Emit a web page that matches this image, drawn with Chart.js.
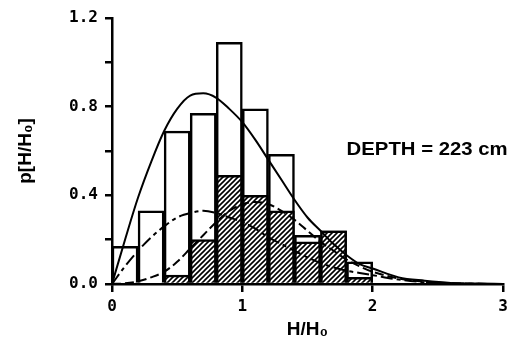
<!DOCTYPE html>
<html>
<head>
<meta charset="utf-8">
<script src="https://cdn.jsdelivr.net/npm/chart.js@4"></script>
<style>
  html, body { margin: 0; padding: 0; background: #fff; }
  #wrap { width: 518px; height: 344px; position: relative; }
</style>
</head>
<body>
<div id="wrap"><canvas id="myChart"></canvas></div>
<script>
// histogram bins (bin centres, width 0.2)
var binCentres = [0.1, 0.3, 0.5, 0.7, 0.9, 1.1, 1.3, 1.5, 1.7, 1.9];
var openBars   = [0.17, 0.33, 0.69, 0.77, 1.09, 0.79, 0.585, 0.22, 0.24, 0.10];
var hatchBars  = [null, null, 0.04, 0.20, 0.49, 0.40, 0.33, 0.19, 0.24, 0.03];

// curves
var curveX     = [0, 0.1, 0.2, 0.3, 0.4, 0.5, 0.6, 0.7, 0.8, 0.9, 1.0, 1.1, 1.2, 1.3, 1.4, 1.5, 1.6, 1.7, 1.8, 1.9, 2.0, 2.2, 2.4, 2.6, 2.8, 3.0];
var solidCurve = [0, 0.20, 0.39, 0.55, 0.69, 0.79, 0.85, 0.86, 0.84, 0.79, 0.73, 0.65, 0.56, 0.47, 0.38, 0.30, 0.24, 0.18, 0.13, 0.09, 0.07, 0.03, 0.015, 0.005, 0.002, 0];
var dashCurve  = [0, 0.08, 0.15, 0.21, 0.26, 0.30, 0.32, 0.33, 0.32, 0.30, 0.28, 0.25, 0.21, 0.18, 0.15, 0.12, 0.095, 0.075, 0.06, 0.05, 0.04, 0.02, 0.008, 0.003, 0.001, 0];
var dash2Curve = [0, 0.003, 0.012, 0.03, 0.055, 0.10, 0.16, 0.22, 0.28, 0.33, 0.36, 0.37, 0.36, 0.33, 0.29, 0.24, 0.19, 0.15, 0.11, 0.08, 0.055, 0.025, 0.01, 0.004, 0.001, 0];

var yTickLabels = ['0.0', '0.4', '0.8', '1.2'];
var xTickLabels = ['0', '1', '2', '3'];
var noteText = 'DEPTH = 223 cm';

function pts(xs, ys) {
  var out = [];
  for (var i = 0; i < xs.length; i++) {
    if (ys[i] !== null) out.push({x: xs[i], y: ys[i]});
  }
  return out;
}

// diagonal hatch
function makeHatch() {
  var c = document.createElement('canvas');
  var s = 5;
  c.width = s; c.height = s;
  var g = c.getContext('2d');
  g.fillStyle = '#fff';
  g.fillRect(0, 0, s, s);
  g.strokeStyle = '#000';
  g.lineWidth = 1.6;
  g.beginPath();
  g.moveTo(-1, s + 1); g.lineTo(s + 1, -1);
  g.moveTo(-1, 1); g.lineTo(1, -1);
  g.moveTo(s - 1, s + 1); g.lineTo(s + 1, s - 1);
  g.stroke();
  return g.createPattern(c, 'repeat');
}

var notePlugin = {
  id: 'note',
  afterDraw: function(chart) {
    var ctx = chart.ctx;
    var xs = chart.scales.x, ys = chart.scales.y;
    ctx.save();
    ctx.font = 'bold 18px "Liberation Sans"';
    ctx.fillStyle = '#000';
    ctx.textBaseline = 'alphabetic';
    var w = ctx.measureText(noteText).width;
    var px = xs.getPixelForValue(1.8), py = ys.getPixelForValue(0.58);
    ctx.translate(px, py);
    ctx.scale(161 / w, 1);
    ctx.fillText(noteText, 0, 0);
    ctx.restore();
  }
};

var ctx = document.getElementById('myChart').getContext('2d');
var chart = new Chart(ctx, {
  type: 'bar',
  data: {
    datasets: [{
      type: 'line',
      data: pts(curveX, solidCurve),
      borderColor: '#000',
      borderWidth: 2,
      pointRadius: 0,
      cubicInterpolationMode: 'monotone',
      order: 1
    }, {
      type: 'line',
      data: pts(curveX, dashCurve),
      borderColor: '#000',
      borderWidth: 2,
      borderDash: [12, 4, 4, 4],
      pointRadius: 0,
      cubicInterpolationMode: 'monotone',
      order: 1
    }, {
      type: 'line',
      data: pts(curveX, dash2Curve),
      borderColor: '#000',
      borderWidth: 2,
      borderDash: [9, 4],
      pointRadius: 0,
      cubicInterpolationMode: 'monotone',
      order: 1
    }, {
      data: pts(binCentres, hatchBars),
      backgroundColor: makeHatch(),
      borderColor: '#000',
      borderWidth: 2.5,
      grouped: false,
      barPercentage: 1,
      categoryPercentage: 1,
      order: 2
    }, {
      data: pts(binCentres, openBars),
      backgroundColor: '#fff',
      borderColor: '#000',
      borderWidth: 2.5,
      grouped: false,
      barPercentage: 1,
      categoryPercentage: 1,
      order: 3
    }]
  },
  options: {
    responsive: true,
    maintainAspectRatio: false,
    animation: false,
    layout: { padding: { left: 0, right: 15, top: 18, bottom: 0 } },
    plugins: { legend: { display: false }, tooltip: { enabled: false } },
    scales: {
      x: {
        type: 'linear',
        offset: false,
        min: 0, max: 3,
        afterFit: function(s) { s.height = 60; },
        border: { display: true, color: '#000', width: 2.5 },
        grid: { offset: false, drawOnChartArea: false, drawTicks: true, tickLength: 8, color: '#000', lineWidth: 2.5 },
        ticks: {
          stepSize: 1, padding: 5, color: '#000',
          font: { family: '"DejaVu Sans Mono"', size: 16, weight: 'bold' },
          callback: function(v, i) { return xTickLabels[i]; }
        },
        title: {
          display: true, text: 'H/H\u2080', color: '#000',
          font: { family: '"Liberation Sans"', size: 19, weight: 'bold' },
          padding: { top: 2, bottom: 3 }
        }
      },
      y: {
        min: 0, max: 1.2,
        afterFit: function(s) { s.width = 112; },
        border: { display: true, color: '#000', width: 2.5 },
        grid: { drawOnChartArea: false, drawTicks: true, tickLength: 7, color: '#000', lineWidth: 2.5 },
        ticks: {
          stepSize: 0.2, padding: 7, color: '#000',
          font: { family: '"DejaVu Sans Mono"', size: 16, weight: 'bold' },
          callback: function(v, i) { return i % 2 === 0 ? yTickLabels[i / 2] : ''; }
        },
        title: {
          display: true, text: 'p[H/H\u2080]', color: '#000',
          font: { family: '"Liberation Sans"', size: 19, weight: 'bold' },
          padding: { top: 14, bottom: 0 }
        }
      }
    }
  },
  plugins: [notePlugin]
});
</script>
</body>
</html>
